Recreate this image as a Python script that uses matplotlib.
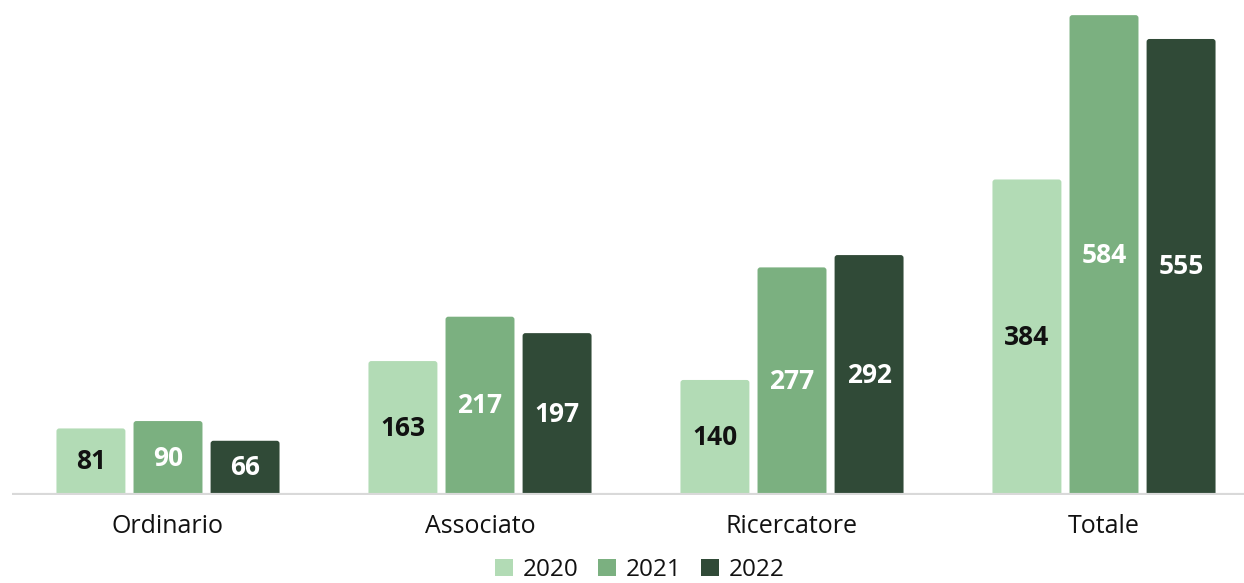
import matplotlib.pyplot as plt
from matplotlib.patches import FancyBboxPatch
import numpy as np

categories = ["Ordinario", "Associato", "Ricercatore", "Totale"]
years = ["2020", "2021", "2022"]
v2020 = [81, 163, 140, 384]
v2021 = [90, 217, 277, 584]
v2022 = [66, 197, 292, 555]
colors = ["#B2DBB5", "#7BB080", "#304A37"]
label_colors = ["#111111", "white", "white"]

plt.rcParams["font.family"] = ["Open Sans", "DejaVu Sans"]

fig = plt.figure(figsize=(12.44, 5.83), dpi=100)
ax = fig.add_axes([12 / 1244, 88 / 583, 1232 / 1244, 493 / 583])

x = np.arange(len(categories))
w = 0.221
step = 0.247
series = [v2020, v2021, v2022]
for i, vals in enumerate(series):
    pos = x + (i - 1) * step
    # start a little below zero so the rounded bottom hides under the axis line
    bars = ax.bar(pos, np.array(vals) + 3, w, bottom=-3, color=colors[i], label=years[i], zorder=2)
    for b, v in zip(bars, vals):
        b.set_visible(False)
        ax.add_patch(FancyBboxPatch((b.get_x(), b.get_y()), b.get_width(), b.get_height(),
                                    boxstyle="round,pad=0,rounding_size=0.009",
                                    mutation_aspect=380, fc=colors[i], ec="none", zorder=2))
        ax.text(b.get_x() + b.get_width() / 2, v / 2, str(v), ha="center", va="center",
                fontsize=19, fontweight="bold", color=label_colors[i], zorder=3)

ax.set_xlim(-0.5, 3.5 - 16 / 312)
ax.set_ylim(0, 600)
ax.axhline(0, color="#D9D9D9", lw=3, zorder=4)
for s in ax.spines.values():
    s.set_visible(False)
ax.set_yticks([])
ax.set_xticks(x)
ax.set_xticklabels(categories, fontsize=18, color="#111111")
ax.tick_params(axis="x", length=0, pad=14)

handles = [plt.Rectangle((0, 0), 1, 1, fc=c) for c in colors]
fig.legend(handles, years, loc="center", bbox_to_anchor=(640 / 1244, 1 - 570 / 583), ncol=3,
           frameon=False, fontsize=17.5, handlelength=0.75, handleheight=0.75, handletextpad=0.4,
           columnspacing=0.8, labelcolor="#111111", borderaxespad=0, borderpad=0)

fig.savefig("out.png", dpi=100)
